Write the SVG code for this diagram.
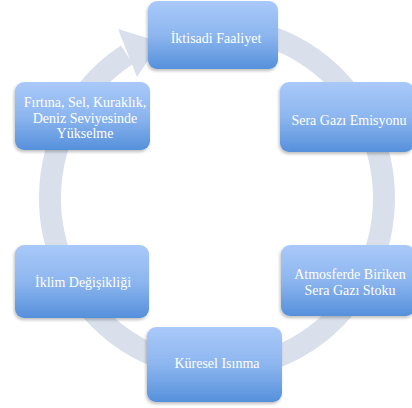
<svg xmlns="http://www.w3.org/2000/svg" width="412" height="408" viewBox="0 0 412 408">
<defs>
<linearGradient id="g" x1="0" y1="0" x2="0" y2="1">
<stop offset="0" stop-color="#a9c9f9"/>
<stop offset="0.5" stop-color="#8db6ef"/>
<stop offset="1" stop-color="#5590db"/>
</linearGradient>
<filter id="sh" x="-10%" y="-10%" width="120%" height="125%">
<feDropShadow dx="-1" dy="2" stdDeviation="1.5" flood-color="#000" flood-opacity="0.25"/>
</filter>
</defs>
<style>
.box{fill:url(#g);filter:url(#sh)}
.t{font-family:"Liberation Serif","DejaVu Serif",serif;font-size:14px;fill:#fff;text-anchor:middle}
</style>
<rect width="412" height="408" fill="#fff"/>
<g id="connectors">
<path d="M 246 30.6 A 167 170 0 1 1 127 54.8" fill="none" stroke="#d9e0eb" stroke-width="22"/>
<polygon points="118,29 137,77 160,42" fill="#d9e0eb"/>
</g>
<g id="n1"><rect class="box" x="148" y="1" width="130" height="68" rx="9"/><text class="t" x="216" y="43">İktisadi Faaliyet</text></g>
<g id="n2"><rect class="box" x="280" y="82" width="134" height="70" rx="9"/><text class="t" x="349" y="125">Sera Gazı Emisyonu</text></g>
<g id="n3"><rect class="box" x="281" y="245" width="134" height="71" rx="9"/><text class="t" x="350" y="279">Atmosferde Biriken</text><text class="t" x="350" y="295">Sera Gazı Stoku</text></g>
<g id="n4"><rect class="box" x="147" y="327" width="135" height="75" rx="9"/><text class="t" x="217" y="368">Küresel Isınma</text></g>
<g id="n5"><rect class="box" x="15" y="245" width="134" height="73" rx="9"/><text class="t" x="83" y="287">İklim Değişikliği</text></g>
<g id="n6"><rect class="box" x="15" y="82" width="135" height="68" rx="9"/><text class="t" x="85" y="107">Fırtına, Sel, Kuraklık,</text><text class="t" x="85" y="123">Deniz Seviyesinde</text><text class="t" x="85" y="138">Yükselme</text></g>
</svg>
